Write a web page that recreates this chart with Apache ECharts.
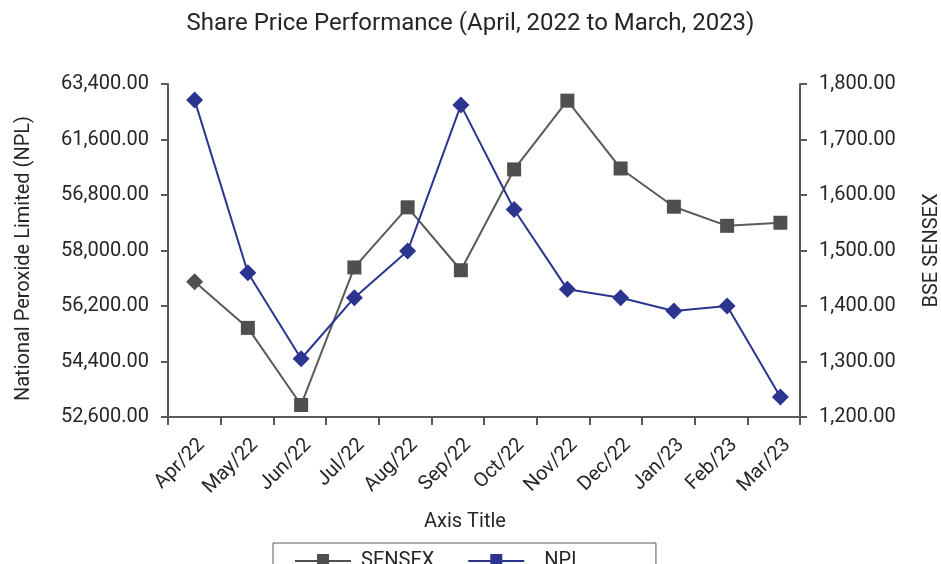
<!DOCTYPE html>
<html>
<head>
<meta charset="utf-8">
<script src="https://cdn.jsdelivr.net/npm/echarts@6/dist/echarts.min.js"></script>
<style>
  html, body { margin: 0; padding: 0; background: #fff; }
  #chart { width: 941px; height: 564px; }
</style>
</head>
<body>
<div id="chart"></div>
<script>
  // months on the x axis
  const months = ['Apr/22', 'May/22', 'Jun/22', 'Jul/22', 'Aug/22', 'Sep/22',
                  'Oct/22', 'Nov/22', 'Dec/22', 'Jan/23', 'Feb/23', 'Mar/23']
  // BSE SENSEX, plotted on the left scale
  const sensex = [56990, 55490, 52990, 57450, 59400, 57360, 60630, 62860, 60660, 59420, 58800, 58900]
  // National Peroxide Limited, plotted on the right scale
  const npl = [1771, 1460, 1305, 1415, 1499, 1762, 1574, 1430, 1415, 1391, 1400, 1236]
  // left tick labels exactly as printed in the source (incl. the odd 56,800.00)
  const leftTicks = ['52,600.00', '54,400.00', '56,200.00', '58,000.00', '56,800.00', '61,600.00', '63,400.00']

  const axisColor = '#595959'
  const textColor = '#262626'
  const font = 'Roboto'
  const sensexColor = '#4f4f4f'
  const nplColor = '#2b3590'
  // legend icon: line with a small square in the middle
  const legendIcon = 'path://M0,6H22V0H34V6H56V8H34V14H22V8H0Z'

  let chart = echarts.init(document.getElementById('chart'))
  chart.setOption({
    backgroundColor: '#fff',
    textStyle: {fontFamily: font},
    title: [
      {
        text: 'Share Price Performance (April, 2022 to March, 2023)',
        left: 'center',
        top: 7,
        textStyle: {fontFamily: font, fontSize: 24, fontWeight: 'normal', color: textColor}
      },
      {
        text: 'Axis Title',
        left: 424,
        top: 512,
        padding: 0,
        textStyle: {fontFamily: font, fontSize: 20, fontWeight: 'normal', color: textColor}
      }
    ],
    // grid 0 carries the drawn axes, grid 1 the plotted marks (slightly wider, as in the source)
    grid: [
      {left: 168, right: 141, top: 84, bottom: 147, outerBoundsMode: 'none'},
      {left: 168, right: 134, top: 84, bottom: 147, outerBoundsMode: 'none'}
    ],
    legend: {
      left: 273,
      top: 543,
      orient: 'horizontal',
      padding: [8, 74, 8, 22],
      itemGap: 34,
      itemWidth: 56,
      itemHeight: 14,
      borderColor: axisColor,
      borderWidth: 1,
      textStyle: {fontFamily: font, fontSize: 20, color: textColor, padding: [0, 0, 0, 5]},
      data: [
        {name: 'SENSEX', icon: legendIcon},
        {name: 'NPL', icon: legendIcon, textStyle: {padding: [0, 0, 0, 15]}}
      ]
    },
    xAxis: [
      {
        type: 'category',
        gridIndex: 0,
        data: months,
        boundaryGap: true,
        axisLine: {lineStyle: {color: axisColor, width: 2}},
        axisTick: {show: true, interval: 0, length: 8, lineStyle: {color: axisColor, width: 2}},
        axisLabel: {show: false}
      },
      {
        type: 'category',
        gridIndex: 1,
        data: months,
        boundaryGap: true,
        axisLine: {show: false},
        axisTick: {show: false},
        axisLabel: {
          interval: 0, rotate: 45, margin: 18, verticalAlign: 'top',
          fontFamily: font, fontSize: 20, color: textColor
        }
      }
    ],
    yAxis: [
      {
        type: 'value',
        gridIndex: 0,
        position: 'left',
        min: 52600,
        max: 63400,
        interval: 1800,
        name: 'National Peroxide Limited (NPL)',
        nameLocation: 'middle',
        nameRotate: 90,
        nameGap: 134,
        nameTextStyle: {fontFamily: font, fontSize: 20, color: textColor, padding: [0, 16, 0, 0]},
        splitLine: {show: false},
        axisLine: {show: true, lineStyle: {color: axisColor, width: 2}},
        axisTick: {show: true, length: 7, lineStyle: {color: axisColor, width: 2}},
        axisLabel: {
          margin: 19,
          fontFamily: font, fontSize: 20, color: textColor,
          formatter: (v) => leftTicks[Math.round((v - 52600) / 1800)]
        }
      },
      {
        type: 'value',
        gridIndex: 0,
        position: 'right',
        min: 1200,
        max: 1800,
        interval: 100,
        name: 'BSE SENSEX',
        nameLocation: 'middle',
        nameRotate: 90,
        nameGap: 122,
        nameTextStyle: {fontFamily: font, fontSize: 20, color: textColor},
        splitLine: {show: false},
        axisLine: {show: true, lineStyle: {color: axisColor, width: 2}},
        axisTick: {show: true, length: 7, lineStyle: {color: axisColor, width: 2}},
        axisLabel: {
          margin: 19,
          fontFamily: font, fontSize: 20, color: textColor,
          formatter: (v) => v.toLocaleString('en-US', {minimumFractionDigits: 2, maximumFractionDigits: 2})
        }
      },
      {type: 'value', gridIndex: 1, min: 52600, max: 63400, show: false, splitLine: {show: false}},
      {type: 'value', gridIndex: 1, min: 1200, max: 1800, show: false, splitLine: {show: false}}
    ],
    series: [
      {
        name: 'SENSEX',
        type: 'line',
        xAxisIndex: 1,
        yAxisIndex: 2,
        data: sensex,
        symbol: (val, params) => params.dataIndex === 0 ? 'diamond' : 'rect',
        symbolSize: (val, params) => params.dataIndex === 0 ? 17 : 14,
        showAllSymbol: true,
        itemStyle: {color: sensexColor},
        lineStyle: {color: '#5a5a5a', width: 2}
      },
      {
        name: 'NPL',
        type: 'line',
        xAxisIndex: 1,
        yAxisIndex: 3,
        data: npl,
        symbol: 'diamond',
        symbolSize: 17,
        showAllSymbol: true,
        itemStyle: {color: nplColor},
        lineStyle: {color: nplColor, width: 2}
      }
    ]
  })
</script>
</body>
</html>
